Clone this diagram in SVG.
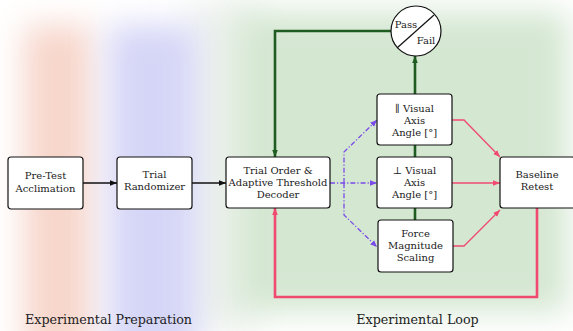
<svg xmlns="http://www.w3.org/2000/svg" width="573" height="331" viewBox="0 0 573 331">
<style>
.node rect{fill:#fff;stroke:#111;stroke-width:1.2}
text{font-family:"DejaVu Serif","Liberation Serif",serif;fill:#222;text-anchor:middle}
.n{font-size:10px}
.lbl{font-size:12.7px}
.blk{stroke:#111;stroke-width:1.3;fill:none}
.grn{stroke:#1e5c22;stroke-width:2.6;fill:none}
.pnk{stroke:#f04a70;stroke-width:1.3;fill:none}
.pnkT{stroke:#f04a70;stroke-width:2.6;fill:none}
.pur{stroke:#7a4be8;stroke-width:1.3;fill:none;stroke-dasharray:5 2 1.2 2}
</style>
<defs>
<filter id="blur" x="-60%" y="-60%" width="220%" height="220%"><feGaussianBlur stdDeviation="16"/></filter>
<marker id="aB" viewBox="0 0 10 10" refX="10" refY="5" markerWidth="7" markerHeight="7" markerUnits="userSpaceOnUse" orient="auto"><path d="M0,1 L10,5 L0,9 z" fill="#111"/></marker>
<marker id="aG" viewBox="0 0 10 10" refX="10" refY="5" markerWidth="7" markerHeight="7" markerUnits="userSpaceOnUse" orient="auto"><path d="M0,1 L10,5 L0,9 z" fill="#1e5c22"/></marker>
<marker id="aP" viewBox="0 0 10 10" refX="10" refY="5" markerWidth="7" markerHeight="7" markerUnits="userSpaceOnUse" orient="auto"><path d="M0,1 L10,5 L0,9 z" fill="#f04a70"/></marker>
<marker id="aV" viewBox="0 0 10 10" refX="10" refY="5" markerWidth="7" markerHeight="7" markerUnits="userSpaceOnUse" orient="auto"><path d="M0,1 L10,5 L0,9 z" fill="#7a4be8"/></marker>
</defs>
<g id="background">
<rect width="573" height="331" fill="#fff"/>
<rect x="190" y="0" width="70" height="331" fill="#edf2ed" filter="url(#blur)"/>
<rect x="24" y="25" width="68" height="330" fill="#f7d6cb" filter="url(#blur)"/>
<rect x="108" y="25" width="90" height="330" fill="#d5d5f7" filter="url(#blur)"/>
<rect x="236" y="12" width="332" height="300" fill="#d4e7d1" filter="url(#blur)"/>
</g>
<g id="connectors">
<path class="blk" d="M83,183 H117" marker-end="url(#aB)"/>
<path class="blk" d="M192,183 H226" marker-end="url(#aB)"/>
<path class="pur" d="M330,183 H377" marker-end="url(#aV)"/>
<path class="pur" d="M344,183 V152 L377,120" marker-end="url(#aV)"/>
<path class="pur" d="M344,183 V215 L377,247" marker-end="url(#aV)"/>
<path class="grn" d="M415,94 V56" marker-end="url(#aG)"/>
<path class="grn" d="M415,145 V157 M415,208 V220"/>
<path class="grn" d="M391,31 H275 V157" marker-end="url(#aG)"/>
<path class="pnk" d="M452,120 H464 L500,157" marker-end="url(#aP)"/>
<path class="pnk" d="M452,183 H500" marker-end="url(#aP)"/>
<path class="pnk" d="M453,246 H464 L500,210" marker-end="url(#aP)"/>
<path class="pnkT" d="M537,208 V297 H275 V208" marker-end="url(#aP)"/>
</g>
<g id="pretest" class="node"><rect x="8" y="157" width="75" height="52" rx="3"/><text class="n" x="45.5" y="179.2">Pre-Test</text><text class="n" x="45.5" y="192.2">Acclimation</text></g>
<g id="randomizer" class="node"><rect x="117" y="157" width="75" height="52" rx="3"/><text class="n" x="154.5" y="177.5">Trial</text><text class="n" x="154.5" y="190">Randomizer</text></g>
<g id="decoder" class="node"><rect x="226" y="157" width="104" height="51" rx="3"/><text class="n" x="278" y="173.5">Trial Order &amp;</text><text class="n" x="278" y="185.7">Adaptive Threshold</text><text class="n" x="278" y="197.7">Decoder</text></g>
<g id="parallel" class="node"><rect x="377" y="94" width="75" height="51" rx="3"/><text class="n" x="414.5" y="111.6">∥ Visual</text><text class="n" x="414.5" y="124">Axis</text><text class="n" x="414.5" y="136">Angle [°]</text></g>
<g id="perp" class="node"><rect x="377" y="157" width="75" height="51" rx="3"/><text class="n" x="414.5" y="173.5">⊥ Visual</text><text class="n" x="414.5" y="185.7">Axis</text><text class="n" x="414.5" y="197.7">Angle [°]</text></g>
<g id="force" class="node"><rect x="378" y="220" width="75" height="52" rx="3"/><text class="n" x="415.5" y="236.7">Force</text><text class="n" x="415.5" y="249">Magnitude</text><text class="n" x="415.5" y="261">Scaling</text></g>
<g id="baseline" class="node"><rect x="500" y="157" width="75" height="51" rx="3"/><text class="n" x="537" y="178.3">Baseline</text><text class="n" x="537" y="190.3">Retest</text></g>
<g id="passfail"><circle cx="416" cy="31" r="25" fill="#fff" stroke="#111" stroke-width="1.2"/><path d="M397,48 L434,15" stroke="#111" stroke-width="1.2"/><text class="n" x="406" y="27.5">Pass</text><text class="n" x="426" y="44">Fail</text></g>
<g id="labels"><text class="lbl" x="108.5" y="324">Experimental Preparation</text><text class="lbl" x="417.5" y="324">Experimental Loop</text></g>
</svg>
